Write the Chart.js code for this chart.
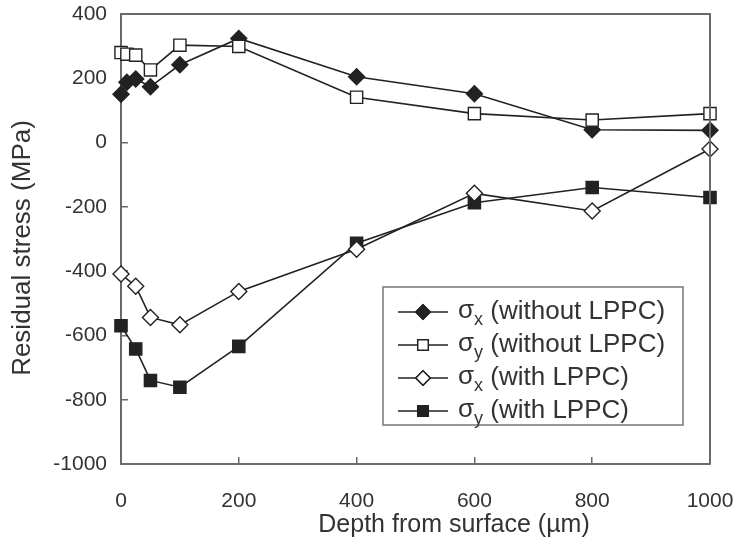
<!DOCTYPE html>
<html>
<head>
<meta charset="utf-8">
<script src="https://cdn.jsdelivr.net/npm/chart.js@4"></script>
<style>
  html, body { margin: 0; padding: 0; background: #fff; }
  #wrap { width: 739px; height: 554px; }
</style>
</head>
<body>
<div id="wrap"><canvas id="stressChart" width="739" height="554"></canvas></div>
<script>
// depth (µm) of the measuring points
const depthWithout = [0, 10, 25, 50, 100, 200, 400, 600, 800, 1000];
const depthWith = [0, 25, 50, 100, 200, 400, 600, 800, 1000];

// residual stress (MPa)
const sxWithout = [150, 188, 198, 174, 242, 324, 205, 152, 40, 38];
const syWithout = [280, 275, 272, 226, 303, 299, 141, 90, 70, 90];
const sxWith = [-409, -447, -544, -567, -463, -332, -158, -213, -20];
const syWith = [-570, -642, -740, -761, -634, -313, -187, -140, -171];

const legendLabels = [
    { sub: 'x', text: ' (without LPPC)' },
    { sub: 'y', text: ' (without LPPC)' },
    { sub: 'x', text: ' (with LPPC)' },
    { sub: 'y', text: ' (with LPPC)' }
];
const xTitle = 'Depth from surface (µm)';
const yTitle = 'Residual stress (MPa)';

const FONT = '"Liberation Sans", Arial, sans-serif';
const INK = '#222';
const TEXT = '#333';
const AXIS = '#6a6a6a';

const toPoints = (xs, ys) => xs.map((x, i) => ({ x: x, y: ys[i] }));

function series(label, xs, ys, style, fill, order) {
    return {
        label: label,
        data: toPoints(xs, ys),
        borderColor: INK,
        borderWidth: 1.6,
        pointStyle: style,
        pointRadius: style === 'rect' ? 8.6 : 8,
        pointBackgroundColor: fill,
        pointBorderColor: INK,
        pointBorderWidth: 1.4,
        tension: 0,
        clip: 12,
        order: order
    };
}

// box round the plot, axis titles, legend inside the plot area
const frameAndLegend = {
    id: 'frameAndLegend',
    afterDatasetsDraw(chart) {
        const { ctx, chartArea: a } = chart;
        ctx.save();
        ctx.strokeStyle = AXIS;
        ctx.lineWidth = 2;
        ctx.beginPath();
        ctx.moveTo(a.left, a.top);
        ctx.lineTo(a.right, a.top);
        ctx.lineTo(a.right, a.bottom);
        ctx.stroke();

        // axis titles (sit a little right / low of the plot centre in the original)
        ctx.fillStyle = TEXT;
        ctx.textAlign = 'center';
        ctx.textBaseline = 'middle';
        ctx.font = '25px ' + FONT;
        ctx.fillText(xTitle, 454, 525);
        ctx.save();
        ctx.translate(23, 248);
        ctx.rotate(-Math.PI / 2);
        ctx.font = '26px ' + FONT;
        ctx.fillText(yTitle, 0, 0);
        ctx.restore();

        // legend box
        const bx = 383, by = 287, bw = 300, bh = 138;
        ctx.fillStyle = '#fff';
        ctx.fillRect(bx, by, bw, bh);
        ctx.strokeStyle = '#777';
        ctx.lineWidth = 1.5;
        ctx.strokeRect(bx, by, bw, bh);

        chart.data.datasets.forEach((ds, i) => {
            const y = by + 25 + i * 33;
            ctx.strokeStyle = INK;
            ctx.lineWidth = 1.6;
            ctx.beginPath();
            ctx.moveTo(bx + 15, y);
            ctx.lineTo(bx + 65, y);
            ctx.stroke();
            const r = ds.pointStyle === 'rect' ? 7.4 : 7.2;
            Chart.helpers.drawPoint(ctx, {
                pointStyle: ds.pointStyle, rotation: 0, radius: r, borderWidth: ds.pointBorderWidth
            }, bx + 40, y);
            ctx.fillStyle = ds.pointBackgroundColor;
            ctx.strokeStyle = INK;
            ctx.lineWidth = ds.pointBorderWidth;
            ctx.fill();
            ctx.stroke();

            const lab = legendLabels[i];
            let tx = bx + 75;
            ctx.fillStyle = TEXT;
            ctx.textBaseline = 'middle';
            ctx.textAlign = 'left';
            ctx.font = '26px ' + FONT;
            ctx.fillText('σ', tx, y - 1);
            tx += ctx.measureText('σ').width;
            ctx.font = '18px ' + FONT;
            ctx.fillText(lab.sub, tx, y + 8);
            tx += ctx.measureText(lab.sub).width;
            ctx.font = '26px ' + FONT;
            ctx.fillText(lab.text, tx, y);
        });
        ctx.restore();
    }
};

const ctx = document.getElementById('stressChart').getContext('2d');
new Chart(ctx, {
    type: 'line',
    data: {
        datasets: [
            series('σx (without LPPC)', depthWithout, sxWithout, 'rectRot', INK, 3),
            series('σy (without LPPC)', depthWithout, syWithout, 'rect', '#fff', 1),
            series('σx (with LPPC)', depthWith, sxWith, 'rectRot', '#fff', 2),
            series('σy (with LPPC)', depthWith, syWith, 'rect', INK, 4)
        ]
    },
    options: {
        responsive: false,
        animation: false,
        layout: { padding: { top: 14, right: 29, left: 0, bottom: 0 } },
        plugins: { legend: { display: false }, tooltip: { enabled: false } },
        scales: {
            x: {
                type: 'linear',
                min: 0,
                max: 1000,
                afterFit: s => { s.height = 90; s.paddingLeft = 0; s.paddingRight = 0; },
                ticks: {
                    stepSize: 200, color: TEXT, padding: 32,
                    font: { family: FONT, size: 21 },
                    callback: v => String(v)
                },
                grid: { drawOnChartArea: false, drawTicks: true, tickLength: -7, color: AXIS, lineWidth: 1.5 },
                border: { display: true, color: AXIS, width: 2 }
            },
            y: {
                min: -1000,
                max: 400,
                afterFit: s => { s.width = 121; s.paddingTop = 0; s.paddingBottom = 0; },
                ticks: {
                    stepSize: 200, color: TEXT, padding: 21,
                    font: { family: FONT, size: 21 },
                    callback: v => String(v)
                },
                grid: { drawOnChartArea: false, drawTicks: true, tickLength: -7, color: AXIS, lineWidth: 1.5 },
                border: { display: true, color: AXIS, width: 2 }
            }
        }
    },
    plugins: [frameAndLegend]
});
</script>
</body>
</html>
